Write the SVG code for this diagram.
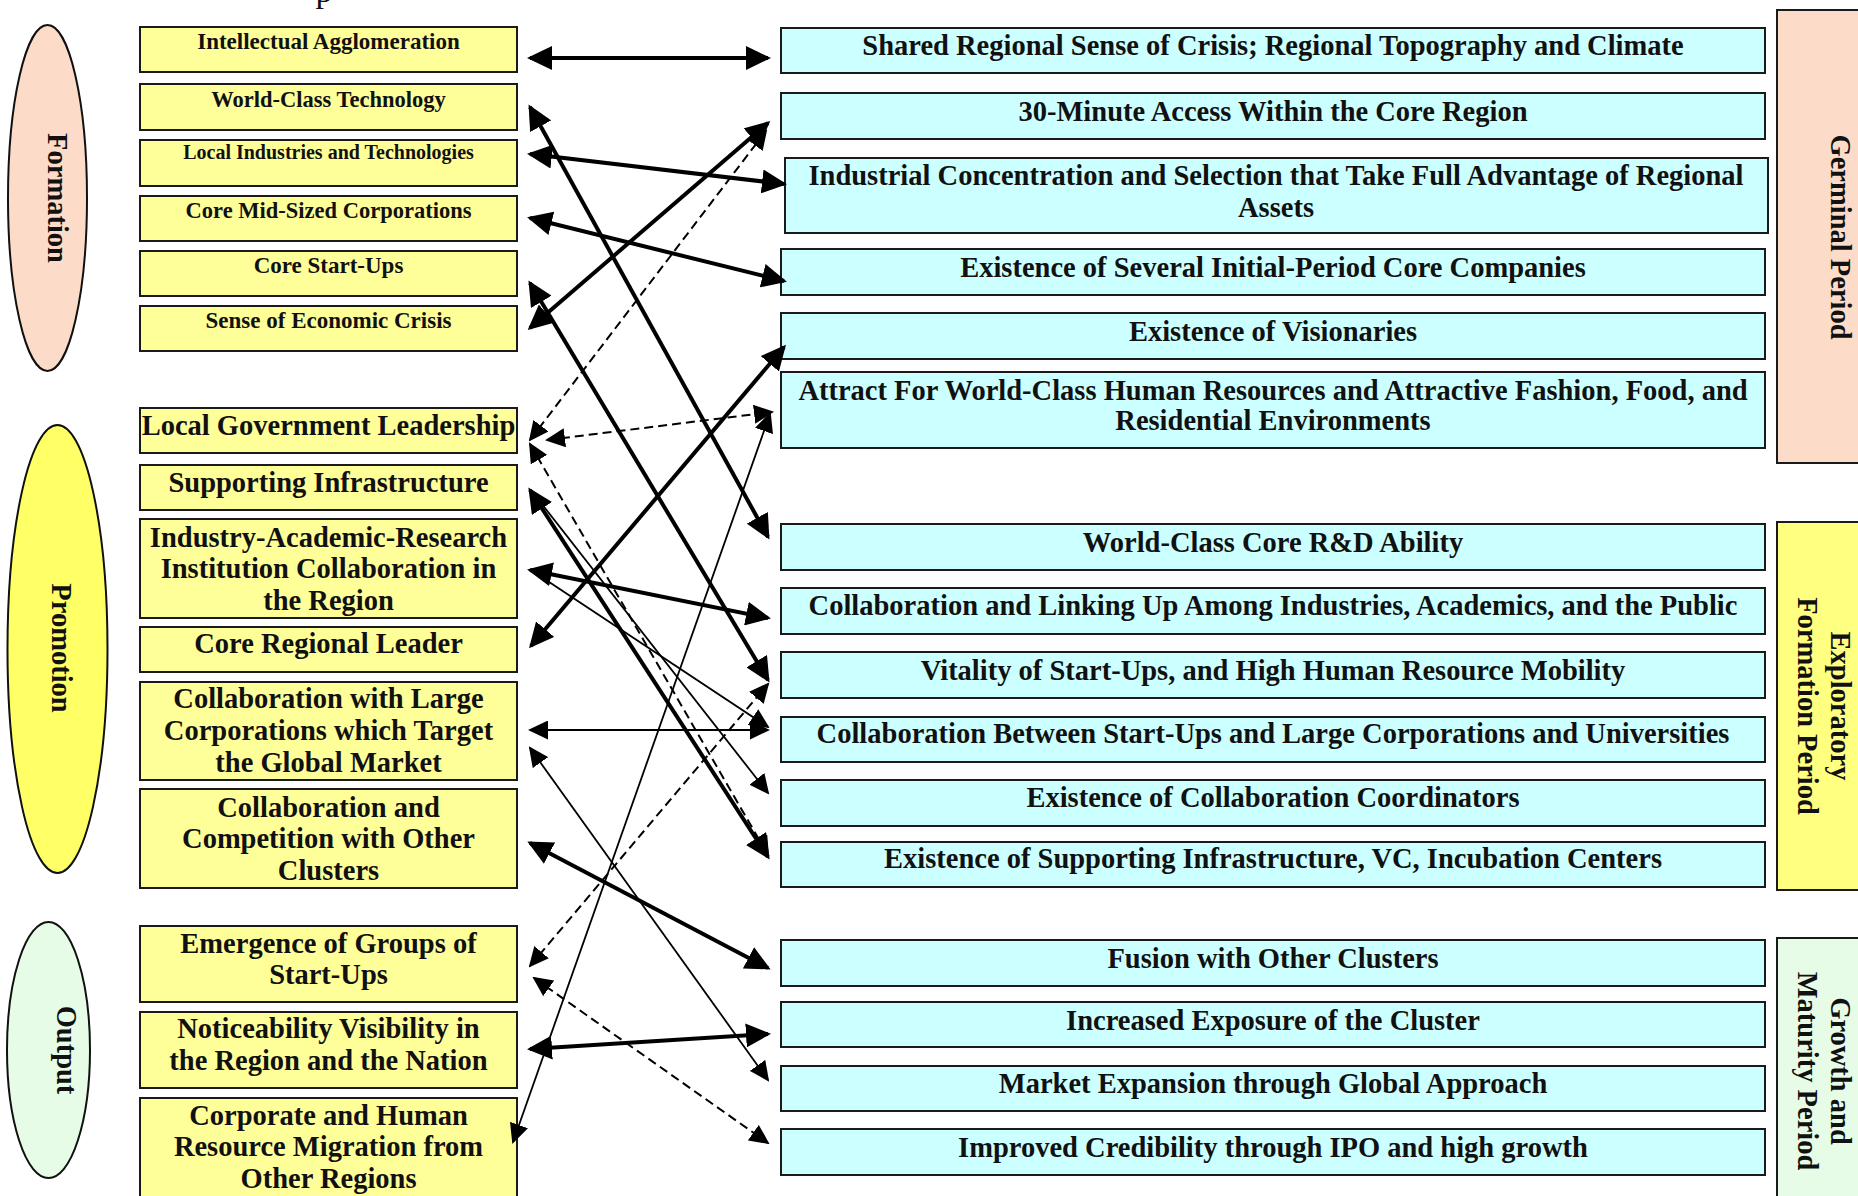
<svg xmlns="http://www.w3.org/2000/svg" width="1858" height="1196" viewBox="0 0 1858 1196">
  <style>
    text { font-family: "Liberation Serif", "Times New Roman", serif; font-weight: bold; fill: #111; }
    .lab { font-size: 28.5px; text-anchor: middle; }
    .sm { font-size: 22.5px; text-anchor: middle; }
    .side { font-size: 28.5px; text-anchor: middle; }
    .fac { fill: #FFFF99; stroke: #1a1a1a; stroke-width: 2; }
    .cond { fill: #CCFFFF; stroke: #1a1a1a; stroke-width: 2; }
    .phase { stroke: #1a1a1a; stroke-width: 2; }
    .thick { stroke: #000; stroke-width: 4; fill: none; marker-start: url(#bigHead); marker-end: url(#bigHead); }
    .thin { stroke: #000; stroke-width: 1.8; fill: none; marker-start: url(#smallHead); marker-end: url(#smallHead); }
    .dash { stroke: #000; stroke-width: 2; fill: none; stroke-dasharray: 9 5; marker-start: url(#smallHead); marker-end: url(#smallHead); }
    .endOnly { marker-start: none; }
  </style>
  <defs>
    <marker id="bigHead" markerUnits="userSpaceOnUse" viewBox="0 0 25 24" markerWidth="25" markerHeight="24" refX="22" refY="12" orient="auto-start-reverse">
      <path d="M0,0 L25,12 L0,24 z" fill="#000"/>
    </marker>
    <marker id="smallHead" markerUnits="userSpaceOnUse" viewBox="0 0 20 19" markerWidth="20" markerHeight="19" refX="18" refY="9.5" orient="auto-start-reverse">
      <path d="M0,0 L20,9.5 L0,19 z" fill="#000"/>
    </marker>
  </defs>

  <rect width="1858" height="1196" fill="#fff"/>

  <!-- clipped heading line above the chart -->
  <text x="324" y="1.5" style="font-size:34px;font-weight:normal;text-anchor:middle">p</text>

  <!-- stage ellipses -->
  <g id="stage-formation">
    <ellipse cx="47.5" cy="198" rx="39.5" ry="173" fill="#FCDCC8" stroke="#111" stroke-width="2"/>
    <text class="side" transform="translate(48,198) rotate(90)" x="0" y="0">Formation</text>
  </g>
  <g id="stage-promotion">
    <ellipse cx="57.5" cy="649" rx="50" ry="224" fill="#FFFF66" stroke="#111" stroke-width="2"/>
    <text class="side" transform="translate(52,648) rotate(90)" x="0" y="0">Promotion</text>
  </g>
  <g id="stage-output">
    <ellipse cx="48.5" cy="1050" rx="41.5" ry="128" fill="#E6FCE6" stroke="#111" stroke-width="2"/>
    <text class="side" transform="translate(57,1050) rotate(90)" x="0" y="0">Output</text>
  </g>

  <!-- left column: factors -->
  <g id="f-intellectual"><rect class="fac" x="140" y="27" width="377" height="45"/><text class="sm" x="328.5" y="49" style="font-size:23px">Intellectual Agglomeration</text></g>
  <g id="f-worldtech"><rect class="fac" x="140" y="84" width="377" height="46"/><text class="sm" x="328.5" y="107">World-Class Technology</text></g>
  <g id="f-localind"><rect class="fac" x="140" y="140" width="377" height="46"/><text class="sm" x="328.5" y="159" style="font-size:20px">Local Industries and Technologies</text></g>
  <g id="f-midsized"><rect class="fac" x="140" y="196" width="377" height="45"/><text class="sm" x="328.5" y="218">Core Mid-Sized Corporations</text></g>
  <g id="f-startups"><rect class="fac" x="140" y="251" width="377" height="45"/><text class="sm" x="328.5" y="273" style="font-size:23px">Core Start-Ups</text></g>
  <g id="f-crisis"><rect class="fac" x="140" y="306" width="377" height="45"/><text class="sm" x="328.5" y="328" style="font-size:23px">Sense of Economic Crisis</text></g>

  <g id="f-localgov"><rect class="fac" x="140" y="408" width="377" height="45"/><text class="lab" x="328.5" y="435">Local Government Leadership</text></g>
  <g id="f-infra"><rect class="fac" x="140" y="465" width="377" height="45"/><text class="lab" x="328.5" y="492">Supporting Infrastructure</text></g>
  <g id="f-iar"><rect class="fac" x="140" y="519" width="377" height="99"/><text class="lab" x="328.5" y="547">Industry-Academic-Research<tspan x="328.5" y="578">Institution Collaboration in</tspan><tspan x="328.5" y="610">the Region</tspan></text></g>
  <g id="f-leader"><rect class="fac" x="140" y="627" width="377" height="45"/><text class="lab" x="328.5" y="653">Core Regional Leader</text></g>
  <g id="f-large"><rect class="fac" x="140" y="682" width="377" height="98"/><text class="lab" x="328.5" y="708">Collaboration with Large<tspan x="328.5" y="740">Corporations which Target</tspan><tspan x="328.5" y="772">the Global Market</tspan></text></g>
  <g id="f-compete"><rect class="fac" x="140" y="789" width="377" height="99"/><text class="lab" x="328.5" y="817">Collaboration and<tspan x="328.5" y="848">Competition with Other</tspan><tspan x="328.5" y="880">Clusters</tspan></text></g>

  <g id="f-emergence"><rect class="fac" x="140" y="926" width="377" height="76"/><text class="lab" x="328.5" y="953">Emergence of Groups of<tspan x="328.5" y="984">Start-Ups</tspan></text></g>
  <g id="f-visibility"><rect class="fac" x="140" y="1012" width="377" height="76"/><text class="lab" x="328.5" y="1038">Noticeability Visibility in<tspan x="328.5" y="1070">the Region and the Nation</tspan></text></g>
  <g id="f-migration"><rect class="fac" x="140" y="1098" width="377" height="112"/><text class="lab" x="328.5" y="1125">Corporate and Human<tspan x="328.5" y="1156">Resource Migration from</tspan><tspan x="328.5" y="1188">Other Regions</tspan></text></g>

  <!-- right column: conditions -->
  <g id="c-shared"><rect class="cond" x="781" y="28" width="984" height="45"/><text class="lab" x="1273" y="55">Shared Regional Sense of Crisis; Regional Topography and Climate</text></g>
  <g id="c-access"><rect class="cond" x="781" y="93" width="984" height="46"/><text class="lab" x="1273" y="121">30-Minute Access Within the Core Region</text></g>
  <g id="c-concentration"><rect class="cond" x="785" y="158" width="983" height="75"/><text class="lab" x="1276" y="185">Industrial Concentration and Selection that Take Full Advantage of Regional<tspan x="1276" y="217">Assets</tspan></text></g>
  <g id="c-initial"><rect class="cond" x="781" y="249" width="984" height="46"/><text class="lab" x="1273" y="277">Existence of Several Initial-Period Core Companies</text></g>
  <g id="c-visionaries"><rect class="cond" x="781" y="313" width="984" height="46"/><text class="lab" x="1273" y="341">Existence of Visionaries</text></g>
  <g id="c-attract"><rect class="cond" x="781" y="372" width="984" height="76"/><text class="lab" x="1273" y="400">Attract For World-Class Human Resources and Attractive Fashion, Food, and<tspan x="1273" y="430">Residential Environments</tspan></text></g>

  <g id="c-rnd"><rect class="cond" x="781" y="524" width="984" height="46"/><text class="lab" x="1273" y="552">World-Class Core R&amp;D Ability</text></g>
  <g id="c-linking"><rect class="cond" x="781" y="588" width="984" height="46"/><text class="lab" x="1273" y="615">Collaboration and Linking Up Among Industries, Academics, and the Public</text></g>
  <g id="c-vitality"><rect class="cond" x="781" y="652" width="984" height="46"/><text class="lab" x="1273" y="680">Vitality of Start-Ups, and High Human Resource Mobility</text></g>
  <g id="c-between"><rect class="cond" x="781" y="717" width="984" height="45"/><text class="lab" x="1273" y="743">Collaboration Between Start-Ups and Large Corporations and Universities</text></g>
  <g id="c-coordinators"><rect class="cond" x="781" y="780" width="984" height="46"/><text class="lab" x="1273" y="807">Existence of Collaboration Coordinators</text></g>
  <g id="c-vc"><rect class="cond" x="781" y="842" width="984" height="45"/><text class="lab" x="1273" y="868">Existence of Supporting Infrastructure, VC, Incubation Centers</text></g>

  <g id="c-fusion"><rect class="cond" x="781" y="940" width="984" height="46"/><text class="lab" x="1273" y="968">Fusion with Other Clusters</text></g>
  <g id="c-exposure"><rect class="cond" x="781" y="1002" width="984" height="45"/><text class="lab" x="1273" y="1030">Increased Exposure of the Cluster</text></g>
  <g id="c-market"><rect class="cond" x="781" y="1066" width="984" height="45"/><text class="lab" x="1273" y="1093">Market Expansion through Global Approach</text></g>
  <g id="c-ipo"><rect class="cond" x="781" y="1129" width="984" height="46"/><text class="lab" x="1273" y="1157">Improved Credibility through IPO and high growth</text></g>

  <!-- period bands on the right edge -->
  <g id="period-germinal">
    <rect class="phase" x="1777" y="10" width="90" height="453" fill="#FCDCC8"/>
    <text class="side" transform="translate(1831,237) rotate(90)" x="0" y="0">Germinal Period</text>
  </g>
  <g id="period-exploratory">
    <rect class="phase" x="1777" y="522" width="90" height="368" fill="#FFFF80"/>
    <text class="side" transform="translate(1831,706) rotate(90)" x="0" y="0">Exploratory<tspan x="0" y="33">Formation Period</tspan></text>
  </g>
  <g id="period-growth">
    <rect class="phase" x="1777" y="938" width="90" height="280" fill="#E6FCE6"/>
    <text class="side" transform="translate(1831,1071) rotate(90)" x="0" y="0">Growth and<tspan x="0" y="33">Maturity Period</tspan></text>
  </g>

  <!-- connectors -->
  <g id="connectors">
    <path class="thick" d="M530,58 L768,58"/>
    <path class="thick" d="M530,107 L768,537"/>
    <path class="thick" d="M530,154 L784,184"/>
    <path class="thick" d="M530,218 L784,281"/>
    <path class="thick" d="M530,283 L768,680"/>
    <path class="thick" d="M530,328 L768,123"/>
    <path class="thick" d="M531,646 L784,347"/>
    <path class="thick" d="M530,570 L768,618"/>
    <path class="thick" d="M530,490 L768,857"/>
    <path class="thick" d="M530,843 L768,968"/>
    <path class="thick" d="M530,1049 L768,1034"/>

    <path class="thin" d="M530,730 L768,730"/>
    <path class="thin endOnly" d="M534,572 L768,727"/>
    <path class="thin endOnly" d="M534,494 L768,793"/>
    <path class="thin" d="M530,748 L768,1080"/>
    <path class="thin" d="M513,1142 L770,414"/>

    <path class="dash" d="M530,440 L766,131"/>
    <path class="dash" d="M547,440 L772,412"/>
    <path class="dash" d="M530,444 L768,855"/>
    <path class="dash" d="M530,966 L768,684"/>
    <path class="dash" d="M534,978 L768,1143"/>
  </g>
</svg>
